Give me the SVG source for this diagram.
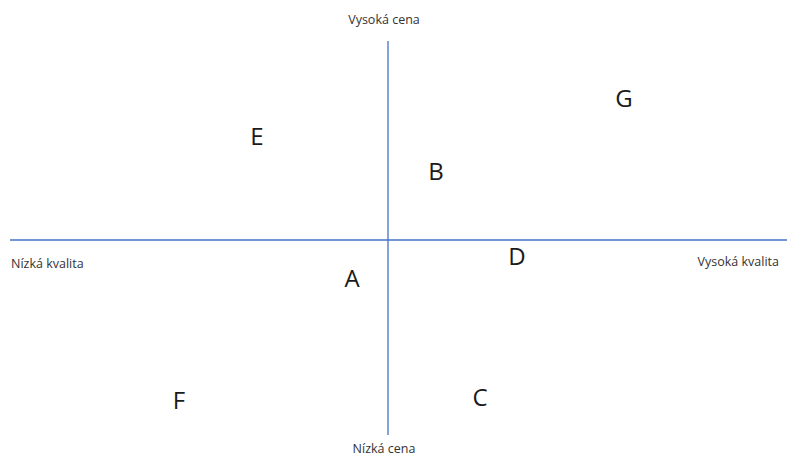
<svg xmlns="http://www.w3.org/2000/svg" width="787" height="456" viewBox="0 0 787 456">
<style>
.axis{stroke:#4472C4;stroke-width:1.3;fill:none}
.lbl{font-family:"Open Sans","Noto Sans",sans-serif;font-size:12.5px;fill:#333333}
.pt{font-family:"Open Sans","Noto Sans",sans-serif;font-size:24px;fill:#1a1a1a;text-anchor:middle}
</style>
<rect width="787" height="456" fill="#ffffff"/>
<g id="connectors">
<line class="axis" x1="388" y1="41" x2="388" y2="435"/>
<line class="axis" x1="10" y1="240" x2="787" y2="240"/>
</g>
<g id="axis-labels">
<text class="lbl" x="384" y="24" text-anchor="middle">Vysoká cena</text>
<text class="lbl" x="384" y="453" text-anchor="middle">Nízká cena</text>
<text class="lbl" x="11" y="268">Nízká kvalita</text>
<text class="lbl" x="779" y="266" text-anchor="end">Vysoká kvalita</text>
</g>
<g id="node-A"><text class="pt" x="352" y="287">A</text></g>
<g id="node-B"><text class="pt" x="436" y="180">B</text></g>
<g id="node-C"><text class="pt" x="480" y="406">C</text></g>
<g id="node-D"><text class="pt" x="517" y="265">D</text></g>
<g id="node-E"><text class="pt" x="257" y="145">E</text></g>
<g id="node-F"><text class="pt" x="179" y="409">F</text></g>
<g id="node-G"><text class="pt" x="624" y="107">G</text></g>
</svg>
